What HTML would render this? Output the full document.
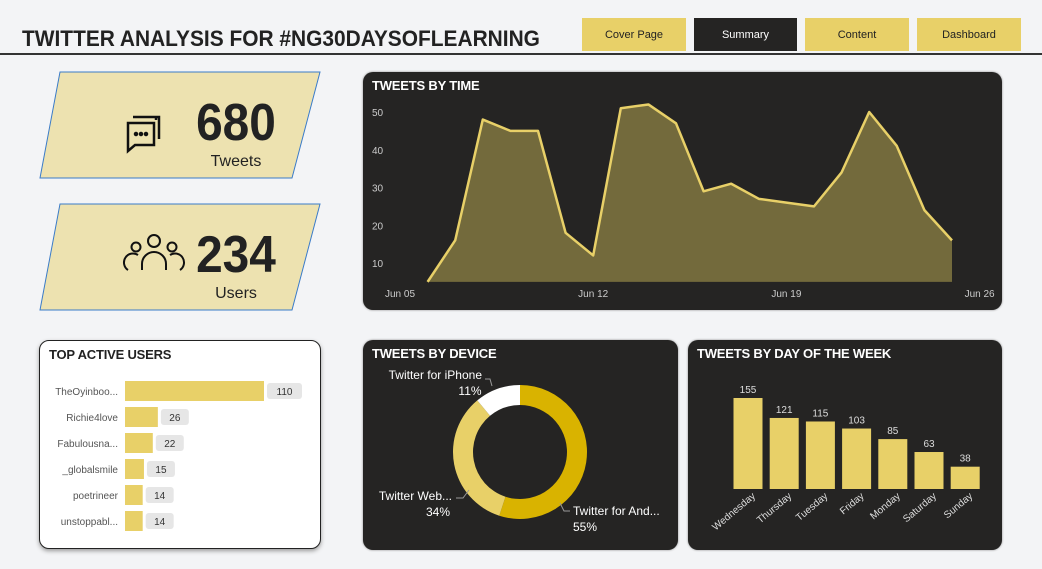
<!DOCTYPE html>
<html><head><meta charset="utf-8"><style>
body{margin:0;width:1042px;height:569px;background:#f3f4f6;font-family:"Liberation Sans",sans-serif;position:relative;overflow:hidden}
.abs{position:absolute}
.btn{position:absolute;top:18px;height:33px;width:104px;background:#e8d068;font-size:11px;color:#222;display:flex;align-items:center;justify-content:center}
.panel{position:absolute;background:#252423;border-radius:10px;box-shadow:0 0 2px #888}
.ptitle{position:absolute;left:9px;top:6px;color:#fff;font-weight:bold;font-size:13px;letter-spacing:-0.2px}
</style></head><body>
<div class="abs" style="left:22px;top:26px;font-size:22px;font-weight:bold;color:#222;transform:scaleX(0.95);transform-origin:left">TWITTER ANALYSIS FOR #NG30DAYSOFLEARNING</div>
<div class="abs" style="left:0;top:53px;width:1042px;height:2px;background:#333"></div>
<div class="btn" style="left:582px">Cover Page</div>
<div class="btn" style="left:694px;width:103px;background:#252423;color:#fff">Summary</div>
<div class="btn" style="left:805px">Content</div>
<div class="btn" style="left:917px">Dashboard</div>

<svg class="abs" style="left:0;top:0" width="340" height="330">
<polygon points="60,72 320,72 292,178 40,178" fill="#ede2b0" stroke="#3a7bc8" stroke-width="1"/>
<polygon points="60,204 320,204 292,310 40,310" fill="#ede2b0" stroke="#3a7bc8" stroke-width="1"/>
<g fill="none" stroke="#111" stroke-width="2.5">
<path d="M128 123 h26 v22 h-19 l-7 6 z"/><path d="M133 117 h23 v3 M157 117 h2 v22"/>
<circle cx="136" cy="134" r="1" fill="#111"/><circle cx="141" cy="134" r="1" fill="#111"/><circle cx="146" cy="134" r="1" fill="#111"/>
</g>
<g fill="none" stroke="#111" stroke-width="2">
<circle cx="154" cy="241" r="6"/><circle cx="136" cy="247" r="4.5"/><circle cx="172" cy="247" r="4.5"/>
<path d="M142 270 v-6 a12 12 0 0 1 24 0 v6"/><path d="M128 270 a9 9 0 0 1 10 -15"/><path d="M180 270 a9 9 0 0 0 -10 -15"/>
</g>
<text x="236" y="140" font-size="52" font-weight="bold" text-anchor="middle" fill="#222" transform="translate(236 0) scale(0.92 1) translate(-236 0)">680</text>
<text x="236" y="166" font-size="16" text-anchor="middle" fill="#222">Tweets</text>
<text x="236" y="272" font-size="52" font-weight="bold" text-anchor="middle" fill="#222" transform="translate(236 0) scale(0.92 1) translate(-236 0)">234</text>
<text x="236" y="298" font-size="16" text-anchor="middle" fill="#222">Users</text>
</svg>

<div class="panel" style="left:363px;top:72px;width:639px;height:238px">
<div class="ptitle">TWEETS BY TIME</div></div>
<svg id="timeSvg" class="abs" style="left:0;top:0" width="1042" height="569"></svg>

<div class="abs" style="left:39px;top:340px;width:280px;height:207px;background:#fff;border:1.5px solid #222;border-radius:10px;box-shadow:0 2px 4px #999">
<div class="ptitle" style="color:#222">TOP ACTIVE USERS</div></div>
<svg id="usersSvg" class="abs" style="left:0;top:0" width="340" height="569"></svg>

<div class="panel" style="left:363px;top:340px;width:315px;height:210px">
<div class="ptitle">TWEETS BY DEVICE</div></div>
<svg id="devSvg" class="abs" style="left:0;top:0" width="1042" height="569"></svg>

<div class="panel" style="left:688px;top:340px;width:314px;height:210px">
<div class="ptitle">TWEETS BY DAY OF THE WEEK</div></div>
<svg id="daySvg" class="abs" style="left:0;top:0" width="1042" height="569"></svg>

<script>
const NS="http://www.w3.org/2000/svg";
function mk(p,t,a,txt){const e=document.createElementNS(NS,t);for(const k in a)e.setAttribute(k,a[k]);if(txt!==undefined)e.textContent=txt;p.appendChild(e);return e;}

// time chart data
const timeValues=[5,16,48,45,45,18,12,51,52,47,29,31,27,26,25,34,50,41,24,16];
const timeFirstDay=1;
const timeYTicks=[10,20,30,40,50];
const timeXTicks=["Jun 05","Jun 12","Jun 19","Jun 26"];
const timeXTickDays=[0,7,14,21];
const tx=d=>400+d*27.6, ty=v=>263-(v-10)*3.775;
const ts=document.getElementById('timeSvg');
let pts=timeValues.map((v,i)=>tx(i+timeFirstDay)+","+ty(v));
const area=mk(ts,'polygon',{points:pts.join(" ")+" "+tx(timeValues.length)+","+ty(5)+" "+tx(timeFirstDay)+","+ty(5),fill:"#736a3c"});


const line=mk(ts,'polyline',{points:pts.join(" "),fill:"none",stroke:"#e8d068","stroke-width":2.5,"stroke-linejoin":"round"});


timeYTicks.forEach(v=>{const t=mk(ts,'text',{x:372,y:ty(v)+4,"font-size":10,fill:"#ccc"},v);

});
timeXTicks.forEach((l,i)=>{const t=mk(ts,'text',{x:tx(timeXTickDays[i]),y:297,"font-size":10,fill:"#ccc","text-anchor":"middle"},l);

});

// top users
const userNames=["TheOyinboo...","Richie4love","Fabulousna...","_globalsmile","poetrineer","unstoppabl..."];
const userCounts=[110,26,22,15,14,14];
const us=document.getElementById('usersSvg');
const ux=v=>v*139/110;
userCounts.forEach((v,i)=>{const cy=391+i*26;
const r=mk(us,'rect',{x:125,y:cy-10,width:ux(v),height:20,fill:"#e8d068"});


const l=mk(us,'text',{x:118,y:cy+4,"font-size":10,fill:"#555","text-anchor":"end"},userNames[i]);


const w=String(v).length*7+14;
const b=mk(us,'rect',{x:125+ux(v)+3,y:cy-8,width:w,height:16,rx:3,fill:"#e6e6e6"});


const t=mk(us,'text',{x:125+ux(v)+3+w/2,y:cy+4,"font-size":10,fill:"#333","text-anchor":"middle"},v);

});

// device donut
const devNames=["Twitter for And...","Twitter Web...","Twitter for iPhone"];
const devShares=[55,34,11];
const devColors=["#d9b300","#e8d068","#ffffff"];
const ds=document.getElementById('devSvg');
const cx=520,cy=452,R=67,r0=47;
let a0=0;const tot=devShares.reduce((a,b)=>a+b,0);
devShares.forEach((v,i)=>{const a1=a0+v/tot*2*Math.PI;
const p=(a,rr)=>[cx+rr*Math.sin(a),cy-rr*Math.cos(a)];
const [x1,y1]=p(a0,R),[x2,y2]=p(a1,R),[x3,y3]=p(a1,r0),[x4,y4]=p(a0,r0);const lg=a1-a0>Math.PI?1:0;
const s=mk(ds,'path',{d:`M${x1} ${y1}A${R} ${R} 0 ${lg} 1 ${x2} ${y2}L${x3} ${y3}A${r0} ${r0} 0 ${lg} 0 ${x4} ${y4}Z`,fill:devColors[i]});


a0=a1;});
const devLab=[[573,515,"start"],[452,500,"end"],[482,379,"end"]];
devNames.forEach((n,i)=>{const [x,y,an]=devLab[i];
const t=mk(ds,'text',{x:x,y:y,"font-size":12,fill:"#fff","text-anchor":an},n);


const t2=mk(ds,'text',{x:i==0?x:(i==1?438:470),y:y+16,"font-size":12,fill:"#fff","text-anchor":i==0?"start":"middle"},devShares[i]+"%");

});
mk(ds,'polyline',{points:"570,511 564,511 560,503",fill:"none",stroke:"#999"});
mk(ds,'polyline',{points:"456,498 463,498 469,490",fill:"none",stroke:"#999"});
mk(ds,'polyline',{points:"485,379 490,379 492,386",fill:"none",stroke:"#999"});

// day of week
const dayNames=["Wednesday","Thursday","Tuesday","Friday","Monday","Saturday","Sunday"];
const dayCounts=[155,121,115,103,85,63,38];
const ys=document.getElementById('daySvg');
const dx=i=>748+i*36.2, dh=v=>v*91/155, base=489;
dayCounts.forEach((v,i)=>{
const b=mk(ys,'rect',{x:dx(i)-14.5,y:base-dh(v),width:29,height:dh(v),fill:"#e8d068"});


const t=mk(ys,'text',{x:dx(i),y:base-dh(v)-5,"font-size":10,fill:"#ddd","text-anchor":"middle"},v);


const l=mk(ys,'text',{x:dx(i)+8,y:base+8,"font-size":10,fill:"#ddd","text-anchor":"end",transform:`rotate(-40 ${dx(i)+8} ${base+8})`},dayNames[i]);

});
</script>
</body></html>
